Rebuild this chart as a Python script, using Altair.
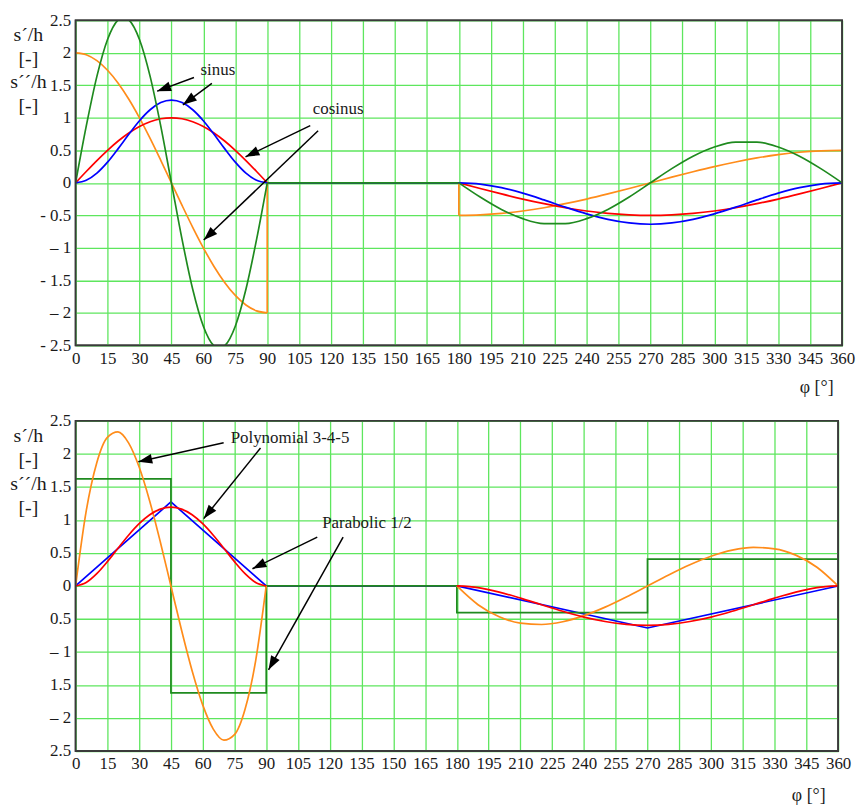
import math
import pandas as pd
import altair as alt

# ---------------- data ----------------
PHI_RISE = [0, 5, 10, 15, 20, 25, 30, 35, 40, 45, 50, 55, 60, 65, 70, 75, 80, 85, 90]
PHI_RET = [180, 190, 200, 210, 220, 230, 240, 250, 260, 270, 280, 290, 300, 310, 320, 330, 340, 350, 360]
PHI_SIN_A = [0, 5, 10, 15, 20, 22.5, 25, 30, 35, 40, 45, 50, 55, 60, 65, 67.5, 70, 75, 80, 85, 90]

# top panel: sinus (blue velocity, green acceleration), cosinus (red velocity, orange acceleration)
SIN_V_RISE = [0, 0.038, 0.149, 0.318, 0.526, 0.747, 0.955, 1.124, 1.235, 1.273, 1.235, 1.124, 0.955, 0.747, 0.526, 0.318, 0.149, 0.038, 0]
COS_V_RISE = [0, 0.174, 0.342, 0.5, 0.643, 0.766, 0.866, 0.940, 0.985, 1.0, 0.985, 0.940, 0.866, 0.766, 0.643, 0.5, 0.342, 0.174, 0]
COS_A_RISE = [2.0, 1.970, 1.879, 1.732, 1.532, 1.286, 1.0, 0.684, 0.347, 0, -0.347, -0.684, -1.0, -1.286, -1.532, -1.732, -1.879, -1.970, -2.0]
SIN_A_RISE = [0, 0.871, 1.637, 2.205, 2.508, 2.546, 2.508, 2.205, 1.637, 0.871, 0, -0.871, -1.637, -2.205, -2.508, -2.546, -2.508, -2.205, -1.637, -0.871, 0]
SIN_V_RET = [0, -0.019, -0.075, -0.159, -0.263, -0.374, -0.477, -0.562, -0.617, -0.637, -0.617, -0.562, -0.477, -0.374, -0.263, -0.159, -0.075, -0.019, 0]
COS_V_RET = [0, -0.087, -0.171, -0.25, -0.321, -0.383, -0.433, -0.470, -0.492, -0.5, -0.492, -0.470, -0.433, -0.383, -0.321, -0.25, -0.171, -0.087, 0]
SIN_A_RET = [0, -0.218, -0.409, -0.551, -0.627, -0.627, -0.551, -0.409, -0.218, 0, 0.218, 0.409, 0.551, 0.627, 0.627, 0.551, 0.409, 0.218, 0]
COS_A_RET = [-0.5, -0.492, -0.470, -0.433, -0.383, -0.321, -0.25, -0.171, -0.087, 0, 0.087, 0.171, 0.25, 0.321, 0.383, 0.433, 0.470, 0.492, 0.5]

# bottom panel: polynomial 3-4-5 (red velocity, orange acceleration), parabolic (blue velocity, green acceleration)
POLY_V_RISE = [0, 0.053, 0.186, 0.368, 0.571, 0.769, 0.943, 1.079, 1.164, 1.194, 1.164, 1.079, 0.943, 0.769, 0.571, 0.368, 0.186, 0.053, 0]
POLY_A_RISE = [0, 1.134, 1.868, 2.252, 2.335, 2.168, 1.801, 1.284, 0.667, 0, -0.667, -1.284, -1.801, -2.168, -2.335, -2.252, -1.868, -1.134, 0]
POLY_V_RET = [0, -0.026, -0.093, -0.184, -0.285, -0.384, -0.472, -0.539, -0.582, -0.597, -0.582, -0.539, -0.472, -0.384, -0.285, -0.184, -0.093, -0.026, 0]
POLY_A_RET = [0, -0.284, -0.467, -0.563, -0.584, -0.542, -0.450, -0.321, -0.167, 0, 0.167, 0.321, 0.450, 0.542, 0.584, 0.563, 0.467, 0.284, 0]
PAR_V_PHI = [0, 45, 90, 180, 270, 360]
PAR_V = [0, 1.273, 0, 0, -0.637, 0]
PAR_A_PHI = [0, 45, 45, 90, 90, 180, 180, 270, 270, 360]
PAR_A = [1.621, 1.621, -1.621, -1.621, 0, 0, -0.405, -0.405, 0.405, 0.405]

# straight connecting pieces (dwell and jumps)
DWELL_PHI = [90, 180]
DWELL_V = [0, 0]
COS_A_LINK_PHI = [90, 90, 180, 180]
COS_A_LINK_V = [-2.0, 0, 0, -0.5]

Y_TICKS = [-2.5, -2, -1.5, -1, -0.5, 0, 0.5, 1, 1.5, 2, 2.5]
X_TICKS = list(range(0, 361, 15))
TOP_NEG_LABELS = {-2.5: "- 2.5", -2: "\u2013 2", -1.5: "- 1.5", -1: "\u2013 1", -0.5: "- 0.5"}
BOT_NEG_LABELS = {-2.5: "2.5", -2: "\u2013 2", -1.5: "1.5", -1: "\u2013 1", -0.5: "0.5"}

# annotations: (x_start, y_start, x_tip, y_tip)
ARROWS_TOP = [(55.6, 1.62, 38.3, 1.41), (64.0, 1.53, 50.4, 1.20),
              (110.2, 0.88, 79.8, 0.40), (113.9, 0.80, 60.2, -0.88)]
TEXTS_TOP = [("sinus", 66.8, 1.73), ("cosinus", 123.3, 1.13)]
ARROWS_BOT = [(69.9, 2.17, 29.6, 1.88), (87.3, 2.09, 60.5, 1.02),
              (114.1, 0.74, 83.5, 0.26), (126.3, 0.74, 91.1, -1.27)]
TEXTS_BOT = [("Polynomial 3-4-5", 73.2, 2.24), ("Parabolic 1/2", 116.4, 0.95)]

COLORS = {"a_orange": "#ff8c1a", "b_red": "#ff0000", "c_blue": "#0000ff", "d_green": "#1f8a1f"}
FONT = "Liberation Serif"


def label_expr(mapping):
    expr = "datum.label"
    for k, v in mapping.items():
        expr = f"datum.value == {k} ? '{v}' : ({expr})"
    return expr


def panel(series, arrows, texts, text_align, labmap, W, H, xtx, xty, yty):
    smooth_rows, lin_rows = [], []
    seg = 0
    for name, pieces in series.items():
        for kind, ph, vals in pieces:
            seg += 1
            target = smooth_rows if kind == "smooth" else lin_rows
            for i, (p, v) in enumerate(zip(ph, vals)):
                target.append({"series": name, "seg": seg, "phi": p, "val": v, "i": i})
    sdf = pd.DataFrame(smooth_rows)
    ldf = pd.DataFrame(lin_rows)

    xs = alt.Scale(domain=[0, 360], nice=False, zero=False)
    ys = alt.Scale(domain=[-2.5, 2.5], nice=False, zero=False)
    xaxis = alt.Axis(values=X_TICKS, title="\u03c6 [\u00b0]", titleAnchor="end", titleAlign="right",
                     titleX=xtx, titleY=xty, titleBaseline="middle", titleFontSize=18,
                     titleFont=FONT, labelFont=FONT, labelFontSize=17,
                     labelAngle=0, labelPadding=5, labelFlush=False, labelOverlap=False)
    yaxis = alt.Axis(values=Y_TICKS, title=["s\u00b4/h", "[-]", " ", "s\u00b4\u00b4/h", "[-]"],
                     titleAngle=0, titleAlign="center", titleBaseline="top", titleX=-48, titleY=yty,
                     titleLineHeight=24, titleFontSize=20, titleFont=FONT, labelFont=FONT,
                     labelFontSize=17, labelPadding=5, labelOverlap=False, format="~g",
                     labelExpr=label_expr(labmap))
    color = alt.Color("series:N", scale=alt.Scale(domain=list(COLORS), range=list(COLORS.values())), legend=None)

    layers = []
    if len(lin_rows):
        layers.append(alt.Chart(ldf).mark_line(clip=True, strokeWidth=1.7).encode(
            x=alt.X("phi:Q", scale=xs, axis=xaxis), y=alt.Y("val:Q", scale=ys, axis=yaxis),
            color=color, detail="seg:N", order=alt.Order("i:Q")))
    if len(smooth_rows):
        layers.append(alt.Chart(sdf).mark_line(clip=True, strokeWidth=1.7, interpolate="monotone").encode(
            x=alt.X("phi:Q", scale=xs, axis=xaxis), y=alt.Y("val:Q", scale=ys, axis=yaxis),
            color=color, detail="seg:N", order=alt.Order("i:Q")))

    arows, hrows = [], []
    for (x1, y1, x2, y2) in arrows:
        arows.append({"x1": x1, "y1": y1, "x2": x2, "y2": y2})
        dxp = (x2 - x1) * W / 360.0
        dyp = -(y2 - y1) * H / 5.0
        L = math.hypot(dxp, dyp)
        ux, uy = dxp / L, dyp / L
        ang = math.degrees(math.atan2(dxp, -dyp)) % 360
        cx = x2 - 7 * ux * 360.0 / W
        cy = y2 + 7 * uy * 5.0 / H
        hrows.append({"hx": cx, "hy": cy, "ang": ang})
    adf = pd.DataFrame(arows)
    hdf = pd.DataFrame(hrows)

    layers.append(alt.Chart(adf).mark_rule(color="black", strokeWidth=1.5).encode(
        x=alt.X("x1:Q", scale=xs, axis=xaxis), y=alt.Y("y1:Q", scale=ys, axis=yaxis),
        x2="x2:Q", y2="y2:Q"))
    layers.append(alt.Chart(hdf).mark_point(shape="M0,-1L0.7,1L-0.7,1Z", filled=True, color="black",
                                            opacity=1, size=196, strokeWidth=0).encode(
        x=alt.X("hx:Q", scale=xs, axis=xaxis), y=alt.Y("hy:Q", scale=ys, axis=yaxis),
        angle=alt.Angle("ang:Q", scale=None)))
    tdf = pd.DataFrame([{"t": t, "tx": x, "ty": y} for (t, x, y) in texts])
    layers.append(alt.Chart(tdf).mark_text(font=FONT, fontSize=17, align=text_align, baseline="middle",
                                           color="#1a1a1a").encode(
        x=alt.X("tx:Q", scale=xs, axis=xaxis), y=alt.Y("ty:Q", scale=ys, axis=yaxis), text="t:N"))
    # dark frame drawn above the grid
    layers.append(alt.Chart(pd.DataFrame({"k": [0]})).mark_rect(
        fill="transparent", fillOpacity=0, stroke="#3a3a3a", strokeWidth=1.8).encode(
        x=alt.value(0), x2=alt.value(W), y=alt.value(0), y2=alt.value(H)))
    return alt.layer(*layers).properties(width=W, height=H)


top_series = {
    "a_orange": [("smooth", PHI_RISE, COS_A_RISE), ("linear", COS_A_LINK_PHI, COS_A_LINK_V), ("smooth", PHI_RET, COS_A_RET)],
    "b_red": [("smooth", PHI_RISE, COS_V_RISE), ("linear", DWELL_PHI, DWELL_V), ("smooth", PHI_RET, COS_V_RET)],
    "c_blue": [("smooth", PHI_RISE, SIN_V_RISE), ("linear", DWELL_PHI, DWELL_V), ("smooth", PHI_RET, SIN_V_RET)],
    "d_green": [("smooth", PHI_SIN_A, SIN_A_RISE), ("linear", DWELL_PHI, DWELL_V), ("smooth", PHI_RET, SIN_A_RET)],
}
bot_series = {
    "a_orange": [("smooth", PHI_RISE, POLY_A_RISE), ("linear", DWELL_PHI, DWELL_V), ("smooth", PHI_RET, POLY_A_RET)],
    "b_red": [("smooth", PHI_RISE, POLY_V_RISE), ("linear", DWELL_PHI, DWELL_V), ("smooth", PHI_RET, POLY_V_RET)],
    "c_blue": [("linear", PAR_V_PHI, PAR_V)],
    "d_green": [("linear", PAR_A_PHI, PAR_A)],
}

top = panel(top_series, ARROWS_TOP, TEXTS_TOP, "center", TOP_NEG_LABELS, 771, 327, 762, 42, 4)
bottom = panel(bot_series, ARROWS_BOT, TEXTS_BOT, "left", BOT_NEG_LABELS, 767, 332, 754, 45, 5)

chart = alt.vconcat(top, bottom, spacing=14).properties(
    padding={"left": 0, "top": 0, "right": 2, "bottom": 0}
).configure_axis(
    labelFont=FONT, labelFontSize=17, labelColor="#1a1a1a",
    titleFont=FONT, titleFontWeight="normal", titleColor="#1a1a1a",
    grid=True, gridColor="#5ee65e", gridWidth=1.3, gridOpacity=1,
    ticks=False, domain=False,
).configure_view(stroke="#3a3a3a", strokeWidth=1.6)

chart.save("out.html", embed_options={"renderer": "svg", "actions": False})
